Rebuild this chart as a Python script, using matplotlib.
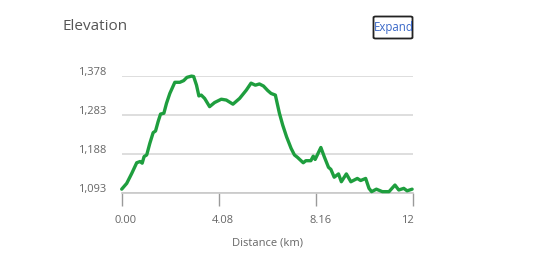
import matplotlib
matplotlib.use("Agg")
import matplotlib.pyplot as plt
import matplotlib.transforms as mtransforms
from matplotlib.patches import FancyBboxPatch

plt.rcParams['font.family'] = ['Open Sans', 'DejaVu Sans']

# elevation profile
distance_km = [0.00, 0.21, 0.42, 0.63, 0.77, 0.86, 0.94, 1.05, 1.18, 1.32,
               1.42, 1.53, 1.63, 1.77, 1.88, 2.02, 2.23, 2.44, 2.60, 2.74,
               2.93, 3.02, 3.14, 3.24, 3.34, 3.48, 3.69, 3.90, 4.18, 4.39,
               4.67, 4.95, 5.23, 5.43, 5.61, 5.78, 5.95, 6.13, 6.27, 6.45,
               6.62, 6.76, 6.92, 7.11, 7.25, 7.38, 7.62, 7.73, 7.94, 8.04,
               8.12, 8.36, 8.50, 8.68, 8.78, 8.92, 9.10, 9.22, 9.43, 9.62,
               9.89, 10.03, 10.24, 10.38, 10.49, 10.69, 10.94, 11.22, 11.47, 11.63,
               11.84, 11.98, 12.19]
elevation_m = [1103, 1117, 1141, 1167, 1170, 1166, 1182, 1186, 1214, 1240,
               1244, 1267, 1285, 1287, 1311, 1335, 1362, 1362, 1366, 1374,
               1377, 1376, 1355, 1329, 1331, 1323, 1303, 1313, 1321, 1319,
               1309, 1323, 1343, 1360, 1355, 1358, 1353, 1342, 1335, 1331,
               1287, 1258, 1230, 1202, 1186, 1180, 1167, 1172, 1172, 1183,
               1175, 1204, 1182, 1156, 1151, 1132, 1140, 1121, 1140, 1121,
               1129, 1124, 1129, 1105, 1097, 1103, 1097, 1097, 1113, 1101,
               1105, 1099, 1103]

y_ticks = [1093, 1188, 1283, 1378]
y_labels = ['1,093', '1,188', '1,283', '1,378']
x_ticks = [0.0, 4.08, 8.16, 12.24]
x_labels = ['0.00', '4.08', '8.16', '12']

W, H = 556, 262
fig = plt.figure(figsize=(W / 100, H / 100), dpi=100)
ax = fig.add_axes([121.7 / W, 1 - 193.3 / H, (413.3 - 121.7) / W, (193.3 - 75.7) / H])

ax.plot(distance_km, elevation_m, color='#1e9e3e', lw=2.4, solid_joinstyle='round',
        solid_capstyle='round', clip_on=False, zorder=3)

ax.set_xlim(0, 12.24)
ax.set_ylim(1093, 1378)

for s in ['top', 'right', 'left']:
    ax.spines[s].set_visible(False)
ax.spines['bottom'].set_color('#c8c8c8')
ax.spines['bottom'].set_linewidth(1.2)

ax.set_yticks(y_ticks)
ax.set_yticklabels(y_labels)
ax.set_xticks(x_ticks)
ax.set_xticklabels(x_labels)
ax.yaxis.grid(True, color='#dedede', lw=1.4)
ax.set_axisbelow(True)
ax.tick_params(axis='y', length=0, pad=11, labelsize=8, labelcolor='#666666')
ax.tick_params(axis='x', length=9.6, width=1, color='#9a9a9a', pad=6,
               labelsize=8, labelcolor='#666666')

# shift labels like the original
dy = mtransforms.ScaledTranslation(0, 5 / 100, fig.dpi_scale_trans)
for lab in ax.get_yticklabels():
    lab.set_transform(lab.get_transform() + dy)
dx = mtransforms.ScaledTranslation(4 / 100, 0, fig.dpi_scale_trans)
xl = ax.get_xticklabels()
for lab in xl[:-1]:
    lab.set_transform(lab.get_transform() + dx)
xl[-1].set_ha('right')

ax.set_xlabel('Distance (km)', fontsize=8, color='#666666', labelpad=8)

fig.text(63 / W, 1 - 27 / H, 'Elevation', fontsize=11, color='#555555',
         ha='left', va='center')

box = FancyBboxPatch((373.5 / W, 1 - 38.5 / H), 39 / W, 22 / H,
                     boxstyle='round,pad=0,rounding_size=0.004',
                     transform=fig.transFigure, fc='white', ec='#222222', lw=1.3)
fig.patches.append(box)
t = fig.text(373.5 / W, 1 - 27.5 / H, 'Expand', fontsize=8.3, color='#3a68c8',
             ha='left', va='center')
t.set_clip_path(box)

fig.savefig('out.png', dpi=100)
